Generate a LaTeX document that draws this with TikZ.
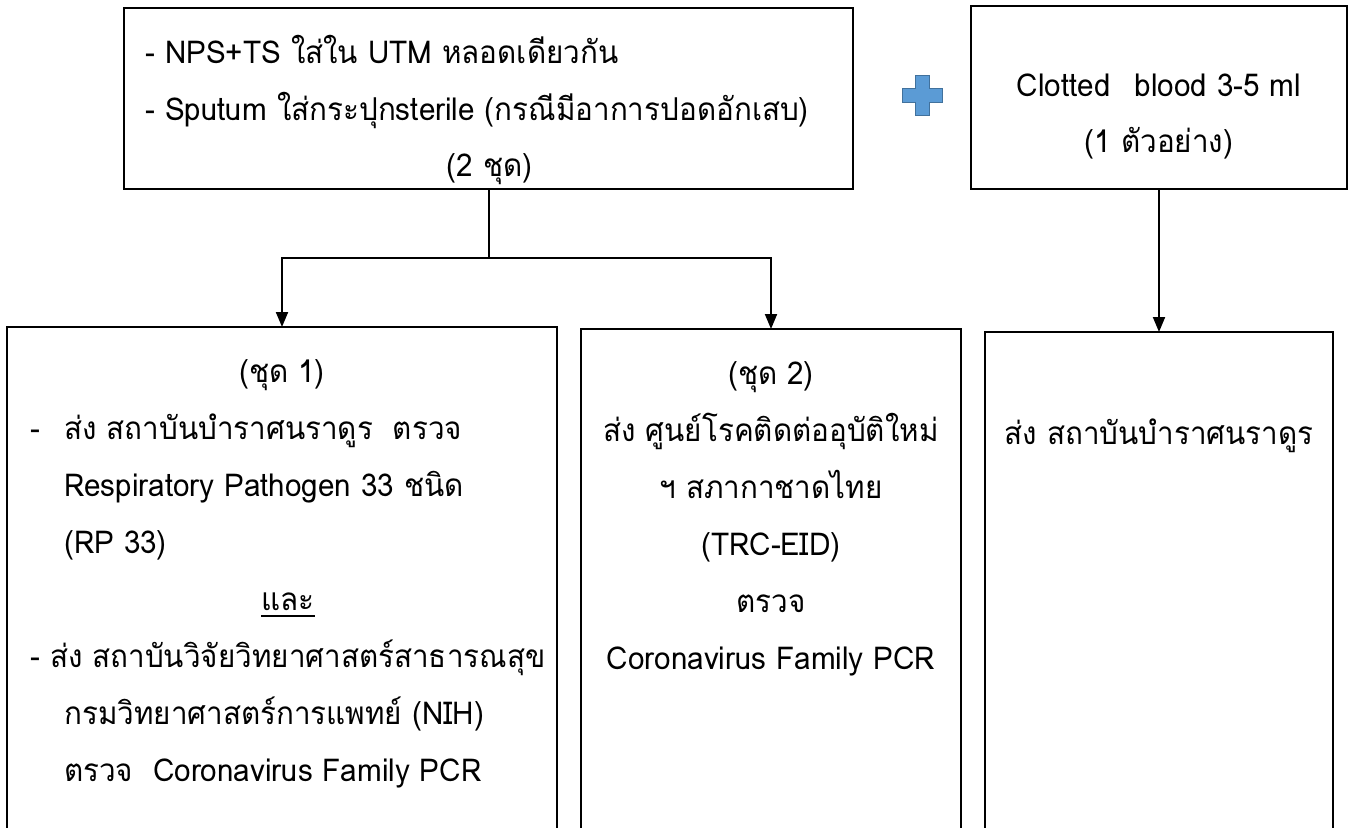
\documentclass[tikz,border=0pt]{standalone}
\usepackage{fontspec}
\setmainfont[Script=Thai,FakeStretch=0.94]{Loma}
\usetikzlibrary{arrows.meta}

\definecolor{plusfill}{RGB}{91,155,213}
\definecolor{plusline}{RGB}{65,113,156}
\newcommand\thickul[1]{\setbox0\hbox{#1}\rlap{\rule[-7bp]{\wd0}{2.5bp}}\box0}

\begin{document}
\begin{tikzpicture}[x=1bp,y=-1bp,>={Triangle[length=15bp,width=12bp]},line join=miter,
  box/.style={draw,line width=2.5bp,inner sep=0pt,outer sep=0pt},
  txt/.style={inner sep=0pt,font=\fontsize{31.5bp}{36bp}\selectfont},
  link/.style={line width=2bp}]
  \useasboundingbox (0,0) rectangle (1350,827);
  \clip (0,0) rectangle (1350,827);
  % boxes
  \node (setA) at (488.5,98.5) [box,minimum width=729bp,minimum height=181bp] {};
  \node (setB) at (1159,97.5) [box,minimum width=376bp,minimum height=183bp] {};
  \node (setC) at (282,598.5) [box,minimum width=550bp,minimum height=543bp] {};
  \node (setD) at (771,599.5) [box,minimum width=380bp,minimum height=541bp] {};
  \node (setE) at (1159,601) [box,minimum width=348bp,minimum height=538bp] {};
  % plus sign
  \filldraw [fill=plusfill,draw=plusline,line width=1bp] (915,75) -- (929,75)
    -- (929,88) -- (942,88) -- (942,102) -- (929,102) -- (929,115)
    -- (915,115) -- (915,102) -- (902,102) -- (902,88) -- (915,88) -- cycle;
  % texts of the top boxes
  \node (a1) at (145,63) [txt,anchor=base west] {- NPS+TS ใส่ใน UTM หลอดเดียวกัน};
  \node (a2) at (145,120) [txt,anchor=base west] {- Sputum ใส่กระปุกsterile (กรณีมีอาการปอดอักเสบ)};
  \node (a3) at (489.5,176) [txt,anchor=base] {(2 ชุด)};
  \node (b1) at (1159,96) [txt,anchor=base] {Clotted\hspace{24bp}blood 3-5 ml};
  \node (b2) at (1159,152) [txt,anchor=base] {(1 ตัวอย่าง)};
  % texts of set 1
  \node (c1) at (282,382) [txt,anchor=base] {(ชุด 1)};
  \node (c2d) at (30,439) [txt,anchor=base west] {-};
  \node (c2) at (64,439) [txt,anchor=base west] {ส่ง สถาบันบำราศนราดูร~ ตรวจ};
  \node (c3) at (64,496) [txt,anchor=base west] {Respiratory Pathogen 33 ชนิด};
  \node (c4) at (64,553) [txt,anchor=base west] {(RP 33)};
  \node (c5) at (288,610) [txt,anchor=base] {\thickul{และ}};
  \node (c6) at (30,667) [txt,anchor=base west] {- ส่ง สถาบันวิจัยวิทยาศาสตร์สาธารณสุข};
  \node (c7) at (64,724) [txt,anchor=base west] {กรมวิทยาศาสตร์การแพทย์ (NIH)};
  \node (c8) at (64,781) [txt,anchor=base west] {ตรวจ~ Coronavirus Family PCR};
  % texts of set 2
  \node (d1) at (771,384) [txt,anchor=base] {(ชุด 2)};
  \node (d2) at (771,441) [txt,anchor=base] {ส่ง ศูนย์โรคติดต่ออุบัติใหม่};
  \node (d3) at (771,498) [txt,anchor=base] {ฯ สภากาชาดไทย};
  \node (d4) at (771,555) [txt,anchor=base] {(TRC-EID)};
  \node (d5) at (771,612) [txt,anchor=base] {ตรวจ};
  \node (d6) at (771,669) [txt,anchor=base] {Coronavirus Family PCR};
  % text of the blood box
  \node (e1) at (1159,444) [txt,anchor=base] {ส่ง สถาบันบำราศนราดูร};
  % connectors
  \coordinate (split) at (488.5,258);
  \draw [link] (setA.south) -- (split);
  \draw [link,->] (split) -| (setC.north);
  \draw [link,->] (split) -| (setD.north);
  \draw [link,->] (setB.south) -- (setE.north);
\end{tikzpicture}
\end{document}
